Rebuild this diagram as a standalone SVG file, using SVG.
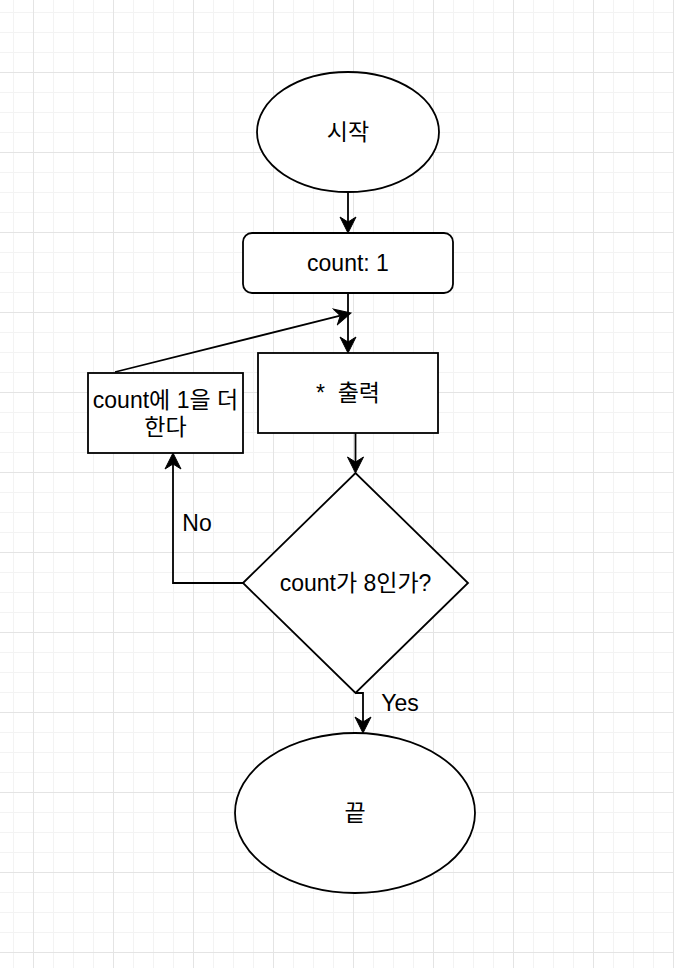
<svg xmlns="http://www.w3.org/2000/svg" width="674" height="968" viewBox="0 0 674 968">
  <style>
    .shape { fill: #ffffff; stroke: #000000; stroke-width: 1.8; }
    .edge { fill: none; stroke: #000000; stroke-width: 1.8; }
    .label { font-family: "Liberation Sans", "Noto Sans CJK KR", sans-serif; font-size: 23px; fill: #000000; text-anchor: middle; dominant-baseline: central; white-space: pre; }
  </style>
  <defs>
    <pattern id="grid" x="33" y="72" width="80" height="80" patternUnits="userSpaceOnUse">
      <rect x="0" y="0" width="80" height="80" fill="#ffffff"/>
      <rect x="20" y="0" width="1" height="80" fill="#f3f3f3"/>
      <rect x="40" y="0" width="1" height="80" fill="#f3f3f3"/>
      <rect x="60" y="0" width="1" height="80" fill="#f3f3f3"/>
      <rect x="0" y="20" width="80" height="1" fill="#f3f3f3"/>
      <rect x="0" y="40" width="80" height="1" fill="#f3f3f3"/>
      <rect x="0" y="60" width="80" height="1" fill="#f3f3f3"/>
      <rect x="0" y="0" width="1" height="80" fill="#e4e4e4"/>
      <rect x="0" y="0" width="80" height="1" fill="#e4e4e4"/>
    </pattern>
    <marker id="arrow" markerUnits="userSpaceOnUse" markerWidth="20" markerHeight="20" viewBox="-1 -10 20 20" refX="5" refY="0" orient="auto">
      <path d="M16,0 L0,-8 L5,0 L0,8 Z" fill="#000000" stroke="#000000" stroke-width="1" stroke-linejoin="miter"/>
    </marker>
  </defs>
  <rect x="0" y="0" width="674" height="968" fill="url(#grid)"/>

  <g id="connectors">
    <line class="edge" x1="348" y1="193" x2="348" y2="222" marker-end="url(#arrow)"/>
    <line class="edge" x1="348" y1="293" x2="348" y2="342" marker-end="url(#arrow)"/>
    <line class="edge" x1="115" y1="372" x2="340.3" y2="315.7" marker-end="url(#arrow)"/>
    <line class="edge" x1="355.5" y1="433" x2="355.5" y2="462" marker-end="url(#arrow)"/>
    <path class="edge" d="M243,583 H173 V464" marker-end="url(#arrow)"/>
    <path class="edge" d="M356,693 H363 V722" marker-end="url(#arrow)"/>
    <text class="label" x="197" y="523">No</text>
    <text class="label" x="400" y="703">Yes</text>
  </g>

  <g id="start">
    <ellipse class="shape" cx="348" cy="132" rx="91" ry="60"/>
    <text class="label" x="348" y="132">시작</text>
  </g>

  <g id="init">
    <rect class="shape" x="243" y="233" width="210" height="60" rx="9" ry="9"/>
    <text class="label" x="348" y="263">count: 1</text>
  </g>

  <g id="print">
    <rect class="shape" x="258" y="353" width="180" height="80"/>
    <text class="label" x="348" y="393">*  출력</text>
  </g>

  <g id="increment">
    <rect class="shape" x="88" y="373" width="155" height="80"/>
    <text class="label" x="165.5" y="399.5">count에 1을 더</text>
    <text class="label" x="165.5" y="426.5">한다</text>
  </g>

  <g id="decision">
    <polygon class="shape" points="243,583 355.5,473 468,583 355.5,693"/>
    <text class="label" x="355.5" y="583">count가 8인가?</text>
  </g>

  <g id="end">
    <ellipse class="shape" cx="355" cy="813" rx="120" ry="80"/>
    <text class="label" x="355" y="813">끝</text>
  </g>
</svg>
